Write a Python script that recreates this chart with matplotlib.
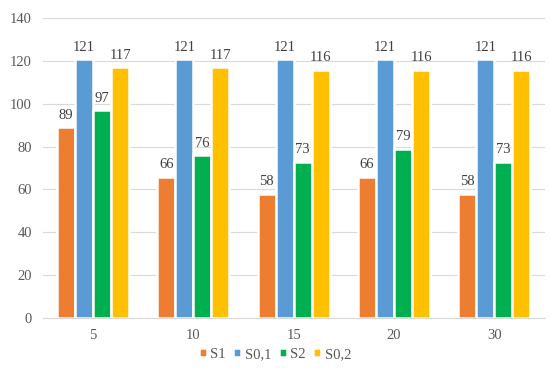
import matplotlib
matplotlib.use("Agg")
import matplotlib.pyplot as plt
import numpy as np

categories = ["5", "10", "15", "20", "30"]
series_names = ["S1", "S0,1", "S2", "S0,2"]
s1 = [89, 66, 58, 66, 58]
s01 = [121, 121, 121, 121, 121]
s2 = [97, 76, 73, 79, 73]
s02 = [117, 117, 116, 116, 116]
values = [s1, s01, s2, s02]
colors = ["#ED7D31", "#5B9BD5", "#00B050", "#FFC000"]

plt.rcParams['font.family'] = ['Liberation Serif', 'DejaVu Serif']

fig = plt.figure(figsize=(5.5, 3.71), dpi=100)
ax = fig.add_axes([0.078, 0.143, 0.912, 0.808])

x = np.arange(len(categories))
slot = 0.18
for i, (name, vals, c) in enumerate(zip(series_names, values, colors)):
    pos = x + (i - 1.5) * slot
    ax.bar(pos, vals, width=slot, color=c, edgecolor="white", linewidth=1.8, label=name, zorder=3)
    for p, v in zip(pos, vals):
        ax.text(p, v + 2.5, str(v), ha="center", va="bottom", fontsize=10.5, color="#404040")

ax.set_xlim(-0.5, len(categories) - 0.5)
ax.set_ylim(0, 140)
ax.set_yticks(range(0, 141, 20))
ax.set_xticks(x)
ax.set_xticklabels(categories)
ax.grid(axis="y", color="#D9D9D9", linewidth=0.8, zorder=0)
for s in ["top", "right", "left"]:
    ax.spines[s].set_visible(False)
ax.spines["bottom"].set_color("#D9D9D9")
ax.tick_params(axis="y", length=0, labelsize=10.5, colors="#595959", pad=8)
ax.tick_params(axis="x", length=0, labelsize=10.5, colors="#595959", pad=8)

fig.legend(loc="lower center", bbox_to_anchor=(0.5, -0.008), ncol=4, frameon=False,
           fontsize=10.5, handlelength=0.55, handleheight=0.55, handletextpad=0.25,
           columnspacing=0.5, labelcolor="#595959")

fig.savefig("out.png", dpi=100)
